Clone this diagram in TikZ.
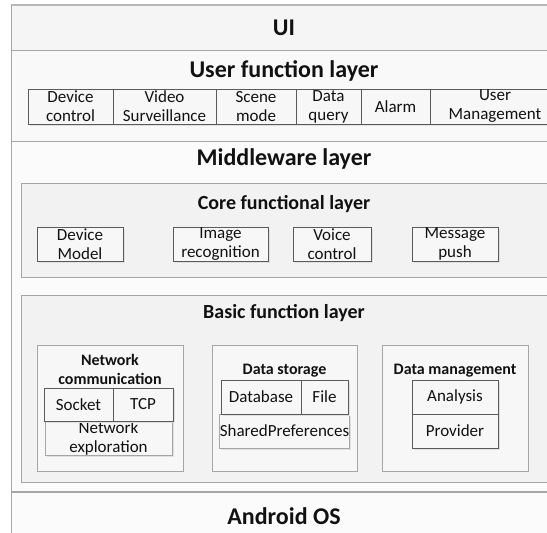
\documentclass[tikz,border=0pt]{standalone}
\usepackage{fontspec}
\setmainfont{Carlito}
\usetikzlibrary{shadows}
\definecolor{framec}{HTML}{A6A6A6}
\definecolor{bandA}{HTML}{F5F5F5}
\definecolor{bandB}{HTML}{F9F9F9}
\definecolor{bandC}{HTML}{FBFBFB}
\definecolor{contc}{HTML}{F2F2F2}
\definecolor{boxc}{HTML}{F7F7F7}
\definecolor{darkline}{HTML}{5A5A5A}
\definecolor{txt}{HTML}{111111}
\tikzset{
  band/.style={draw=framec, line width=0.8pt},
  container/.style={draw=framec, fill=contc, line width=0.8pt},
  ibox/.style={draw=darkline, fill=boxc, line width=0.8pt, inner sep=0pt, align=center, text=txt,
    font=\fontsize{17}{19}\selectfont,
    drop shadow={shadow xshift=1.5pt, shadow yshift=-1.5pt, fill=black!12, opacity=1}},
  lbox/.style={ibox, draw=framec},
  bigtitle/.style={font=\fontsize{24}{28}\selectfont\bfseries, text=txt, inner sep=0pt},
  midtitle/.style={font=\fontsize{20}{24}\selectfont\bfseries, text=txt, inner sep=0pt},
  smalltitle/.style={font=\fontsize{16}{19}\selectfont\bfseries, text=txt, inner sep=0pt, align=center},
}
\begin{document}
\begin{tikzpicture}[x=1pt,y=-1pt]
\useasboundingbox (0,0) rectangle (547,533);
\clip (0,0) rectangle (547,533);
\fill[white] (0,0) rectangle (547,533);
% bands
\path[fill=bandC] (11,141) rectangle (560,492);
\path[fill=bandB] (11,50) rectangle (560,141);
\path[fill=bandA] (11,5) rectangle (560,50);
\path[fill=bandC] (11,492) rectangle (560,540);
\draw[draw=framec!80, line width=2pt] (11,5) -- (560,5);
\draw[band] (11,5) -- (11,540);
\draw[band] (11,50) -- (560,50);
\draw[band] (11,141) -- (560,141);
\draw[draw=framec, line width=2pt] (11,492) -- (560,492);

\node[bigtitle] (ui) at (284,28) {UI};
\node[bigtitle] (ufl) at (284,71) {User function layer};
\node[bigtitle] (mw) at (284,159) {Middleware layer};
\node[bigtitle] (aos) at (284,516) {Android OS};

% user function row
\node[ibox, minimum width=85, minimum height=35] (dc) at (70.5,106.5) {Device\\control};
\node[ibox, minimum width=103, minimum height=35] (vs) at (164.5,106.5) {Video\\Surveillance};
\node[ibox, minimum width=80, minimum height=35] (sm) at (256,106.5) {Scene\\mode};
\node[ibox, minimum width=65, minimum height=35] (dq) at (328.5,106.5) {Data\\query};
\node[ibox, minimum width=69, minimum height=35] (al) at (395.5,106.5) {Alarm};
\node[ibox, minimum width=130, minimum height=35] (um) at (495,106.5) {User\\Management};

% core functional layer
\draw[container] (21,183) rectangle (560,277);
\node[midtitle] (cfl) at (284,204) {Core functional layer};
\node[ibox, minimum width=86, minimum height=34] (dm) at (80,244) {Device\\Model};
\node[ibox, minimum width=95, minimum height=34] (ir) at (220.5,244) {Image\\recognition};
\node[ibox, minimum width=78, minimum height=34] (vc) at (332,244) {Voice\\control};
\node[ibox, minimum width=86, minimum height=34] (mp) at (455,244) {Message\\push};

% basic function layer
\draw[container] (21,295) rectangle (560,482);
\node[midtitle] (bfl) at (284,313) {Basic function layer};

\draw[container, fill=boxc] (37,345) rectangle (183,471);
\draw[container, fill=boxc] (212,345) rectangle (357,471);
\draw[container, fill=boxc] (382,345) rectangle (528,471);

\node[smalltitle] (nc) at (110,369) {Network\\communication};
\node[smalltitle] (ds) at (284.5,371) {Data storage};
\node[smalltitle] (dmg) at (455,371) {Data management};

\node[lbox, minimum width=127, minimum height=34] (ne) at (108.5,438) {Network\\exploration};
\node[ibox, minimum width=69, minimum height=33] (so) at (78.5,404.5) {Socket};
\node[ibox, minimum width=60, minimum height=33] (tcp) at (143,404.5) {TCP};

\node[lbox, minimum width=127, minimum height=34] (sp) at (284.5,431) {SharedPreferences};
\node[ibox, minimum width=80, minimum height=34] (db) at (261,397) {Database};
\node[ibox, minimum width=47, minimum height=34] (fi) at (324.5,397) {File};

\node[ibox, minimum width=86, minimum height=34] (an) at (455,397) {Analysis};
\node[ibox, minimum width=86, minimum height=34] (pr) at (455,431) {Provider};
\end{tikzpicture}
\end{document}
